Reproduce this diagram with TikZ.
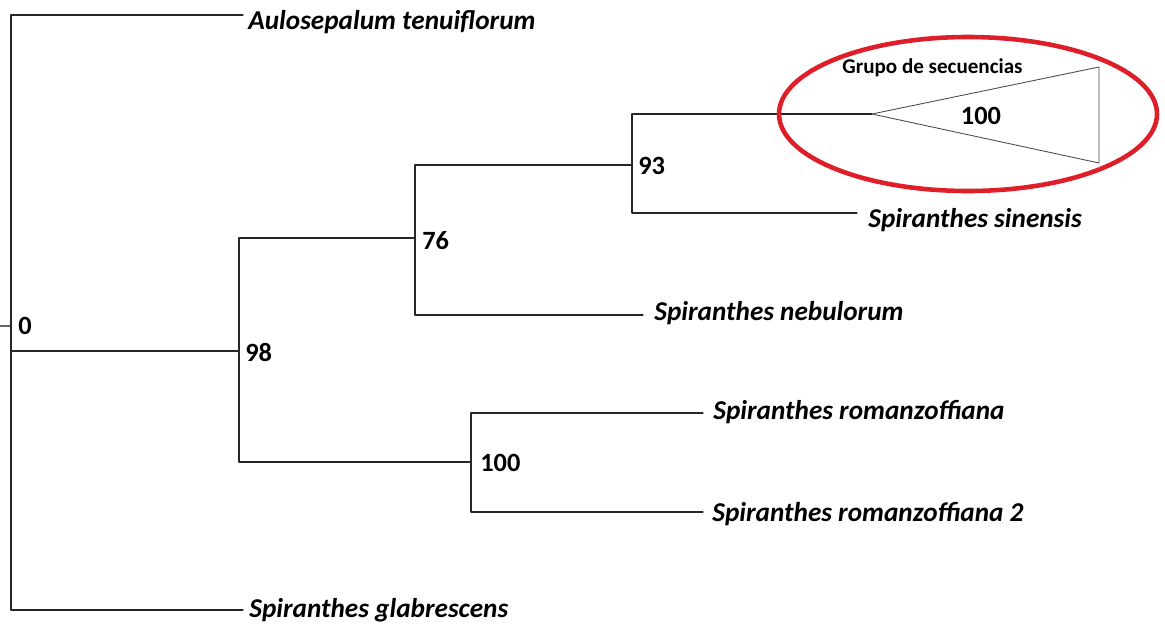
\documentclass[tikz,border=0pt]{standalone}
\usepackage{fontspec}
\setmainfont{Carlito}
\definecolor{ovalred}{RGB}{222,30,40}
\begin{document}
\begin{tikzpicture}[x=0.02cm,y=-0.02cm,line join=round,line cap=round]
			\tikzset{branch/.style={draw=black!85,line width=0.7pt},
				taxon/.style={anchor=west,inner sep=0pt,font=\fontsize{15.5}{17}\selectfont\bfseries\itshape},
				boot/.style={anchor=west,inner sep=0pt,font=\fontsize{15}{17}\selectfont\bfseries}}
			\useasboundingbox (0,0) rectangle (1165,623);
			% internal nodes
			\coordinate (n0) at (11,326);
			\coordinate (n98) at (239,351);
			\coordinate (n76) at (415,238);
			\coordinate (n93) at (632,165);
			\coordinate (n100) at (471,462);
			% tips
			\coordinate (aulo) at (243,15);
			\coordinate (glab) at (243,610);
			\coordinate (grp) at (872,114);
			\coordinate (sine) at (857,213);
			\coordinate (nebu) at (643,315);
			\coordinate (roma) at (703,413);
			\coordinate (roma2) at (703,512);
			\coordinate (stub) at (0,326);
			\draw[branch,draw=black!60] (stub)--(n0);
			\foreach \a/\b in {n0/aulo,n0/n98,n0/glab,n98/n76,n98/n100,n76/n93,n76/nebu,n93/grp,n93/sine,n100/roma,n100/roma2}
			\draw[branch] (\a) |- (\b);
			% collapsed group
			\draw[black!70,line width=0.5pt] (grp)--(1099,67)--(1099,163)--cycle;
			\draw[ovalred,line width=2.6pt] (968,114) ellipse [x radius=189, y radius=77];
			\node[anchor=base west,inner sep=0pt,font=\fontsize{12}{14}\selectfont\bfseries] (grp-l) at (842,73) {Grupo de secuencias};
			\node[inner sep=0pt,font=\fontsize{15}{17}\selectfont\bfseries] (grp-b) at (981,116) {100};
			% labels
			\node[taxon] (aulo-l) at (248,22) {Aulosepalum tenuiflorum};
			\node[taxon] (glab-l) at (249,610) {Spiranthes glabrescens};
			\node[taxon] (sine-l) at (868,220) {Spiranthes sinensis};
			\node[taxon] (nebu-l) at (654,313) {Spiranthes nebulorum};
			\node[taxon] (roma-l) at (713,412) {Spiranthes romanzoffiana};
			\node[taxon] (roma2-l) at (712,514) {Spiranthes romanzoffiana 2};
			\foreach \n/\x/\y/\t in {b0/18/326/0,b98/245/352/98,b76/422/241/76,b93/638/166/93,b100/480/463/100}
			\node[boot] (\n) at (\x,\y) {\t};
		\end{tikzpicture}
\end{document}
